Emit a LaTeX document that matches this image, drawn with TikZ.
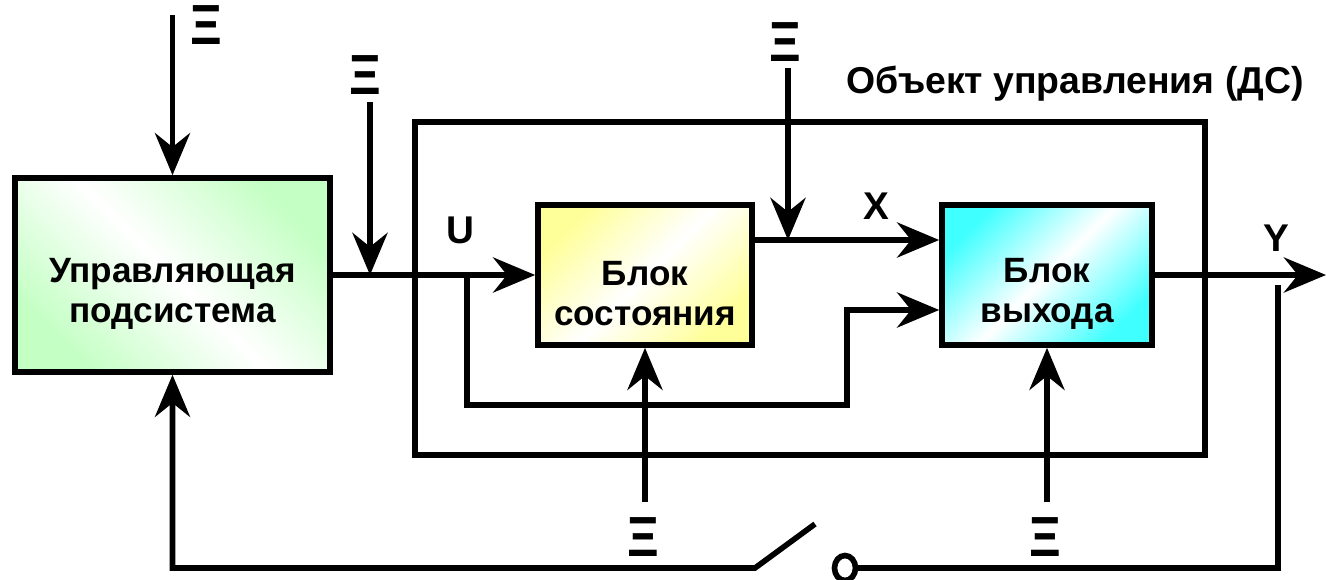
\documentclass[tikz,border=0pt]{standalone}
\usepackage{fontspec}
\setmainfont{Liberation Sans}
\definecolor{grn}{HTML}{C4FFC4}
\definecolor{ylw}{HTML}{FFFF99}
\definecolor{cyn}{HTML}{40FFFF}
\usepackage{tikz}
\usetikzlibrary{positioning, shapes.geometric, arrows.meta}
\pgfdeclarehorizontalshading{grnband}{100bp}{color(0bp)=(grn); color(25bp)=(grn); color(50bp)=(white); color(75bp)=(grn); color(100bp)=(grn)}
\pgfdeclarehorizontalshading{ylwband}{100bp}{color(0bp)=(ylw); color(25bp)=(ylw); color(50bp)=(white); color(75bp)=(ylw); color(100bp)=(ylw)}
\pgfdeclarehorizontalshading{cynband}{100bp}{color(0bp)=(cyn); color(25bp)=(cyn); color(50bp)=(white); color(75bp)=(cyn); color(100bp)=(cyn)}
\newcommand{\xisym}{\scalebox{1}[1.15]{Ξ}}
\newcommand{\lowstrut}{\rule{0pt}{35pt}}

\begin{document}
\begin{tikzpicture}[
  x=0.02cm, y=-0.02cm, line width=3.2pt,
  blk/.style={draw, shade, align=center, inner sep=2pt,
              font=\fontsize{20}{23}\selectfont\bfseries},
  lbl/.style={inner sep=0pt, font=\fontsize{22}{24}\selectfont\bfseries},
  xi/.style={inner sep=0pt, font=\fontsize{28}{28}\selectfont\bfseries},
  arr/.style={-{Stealth[length=24pt, width=20pt, inset=8pt]}},
]
\useasboundingbox (0,0) rectangle (1326,580);

\node[blk, shading=grnband, shading angle=45, minimum width=6.3cm, minimum height=3.88cm]
  (ctrl) at (172.5,275) {\lowstrut Управляющая\\подсистема};

\node[draw, minimum width=15.8cm, minimum height=6.66cm] (obj) at (810,288.5) {};
\node[inner sep=0pt, font=\fontsize{21.3}{24}\selectfont\bfseries]
  (objlbl) at (1075,84) {Объект управления (ДС)};

\node[blk, shading=ylwband, shading angle=-45, minimum width=4.28cm, minimum height=2.8cm]
  (state) at (645,275) {\lowstrut Блок\\состояния};

\node[blk, shading=cynband, shading angle=-45, minimum width=4.2cm, minimum height=2.8cm]
  (out) at (1047,275) {\lowstrut Блок\\выхода};

\node[lbl] (lu) at (460,230) {U};
\node[lbl] (lx) at (876,206) {X};
\node[lbl] (ly) at (1276,238) {Y};

\node[xi] (xi1) at (206,25) {\xisym};
\node[xi] (xi2) at (365,75) {\xisym};
\node[xi] (xi3) at (785,42) {\xisym};
\node[xi] (xi4) at (643,537) {\xisym};
\node[xi] (xi5) at (1045,537) {\xisym};

\coordinate (d1) at (172.5,15);
\coordinate (d2) at (370,102);
\coordinate (d3) at (788,68);
\coordinate (d4) at (645,502);
\coordinate (d5) at (1047,502);
\coordinate (uj) at (467,275);
\coordinate (xs) at ([yshift=0.7cm]state.east);
\coordinate (xo) at ([yshift=-0.7cm]out.west);
\coordinate (yend) at (1326,275);
\coordinate (fb) at (1278,285);
\coordinate (swtop) at (815,524);
\coordinate (swbase) at (755,568);

\draw[arr] (ctrl.east) -- (state.west);
\draw[arr] (uj) |- (847,405) |- (xo);
\draw[arr] (xs) -- (xs -| out.west);
\draw[arr] (out.east) -- (yend);

\draw[arr] (d1) -- (ctrl.north);
\draw[arr] (d2) -- (d2 |- ctrl.east);
\draw[arr] (d3) -- (d3 |- xs);
\draw[arr] (d4) -- (state.south);
\draw[arr] (d5) -- (out.south);

\node[draw, ellipse, inner sep=0pt, minimum width=0.42cm, minimum height=0.5cm] (sw) at (845,568) {};
\draw (fb) |- (sw.east);
\draw[arr] (swtop) -- (swbase) -| (ctrl.south);

\end{tikzpicture}
\end{document}
